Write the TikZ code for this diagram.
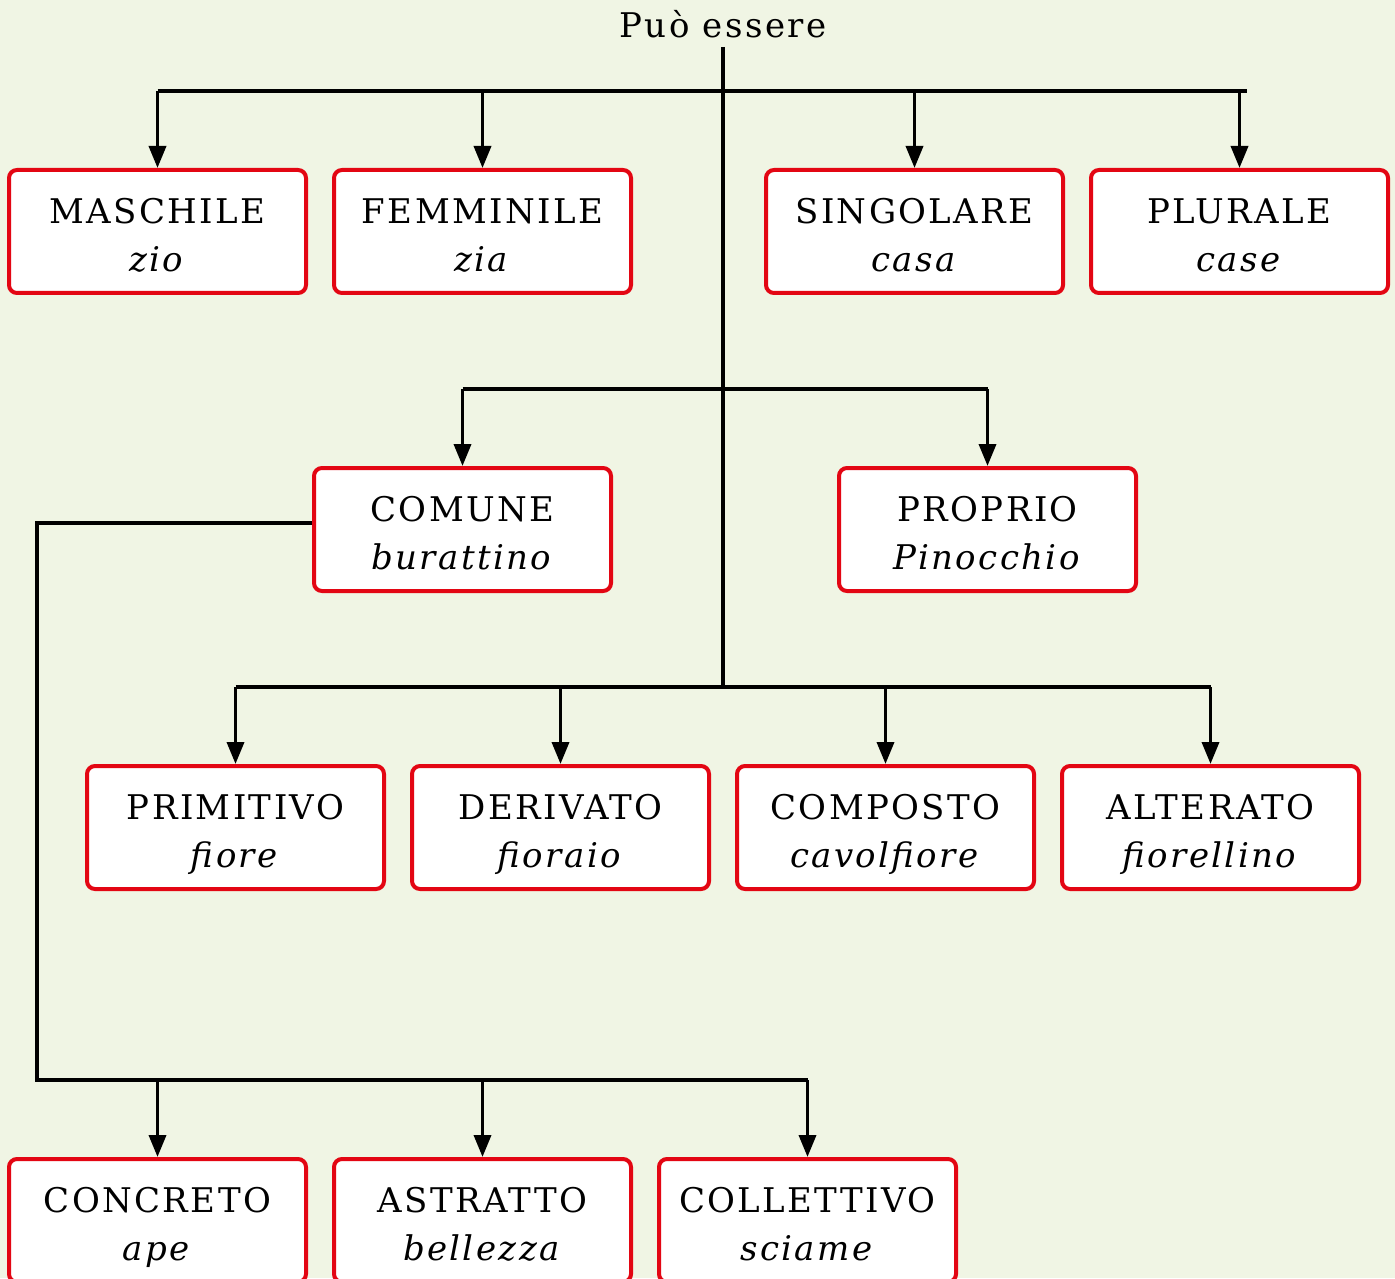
\documentclass[tikz,border=0pt]{standalone}
\usepackage{fontspec}
\setmainfont{DejaVu Serif}[LetterSpace=7]
\usetikzlibrary{arrows.meta}
\definecolor{bg}{RGB}{240,245,228}
\definecolor{boxred}{RGB}{227,6,19}
\tikzset{
  cat/.style={draw=boxred, line width=2pt, rounded corners=4pt, fill=white,
    minimum width=148.5pt, minimum height=61.5pt, align=center,
    font=\fontsize{17}{24}\selectfont, inner sep=0pt},
  conn/.style={line width=1.8pt, draw=black},
  arr/.style={conn, -{Triangle[length=11pt,width=8.5pt]}},
}
\newcommand{\cattext}[2]{\rule{0pt}{20pt}#1\\\textit{#2}\rule[-4.5pt]{0pt}{4.5pt}}
\begin{document}
\begin{tikzpicture}[x=0.5pt,y=-0.5pt]
\fill[bg] (0,0) rectangle (1395,1278);
\useasboundingbox (0,0) rectangle (1395,1278);
\clip (0,0) rectangle (1395,1278);
% title
\node[anchor=base, inner sep=0pt, font=\fontsize{17}{20}\selectfont] (top) at (723,38) {Può essere};
% row 1
\node[cat] (mas) at (157.5,231.5) {\cattext{MASCHILE}{zio}};
\node[cat] (fem) at (482.5,231.5) {\cattext{FEMMINILE}{zia}};
\node[cat] (sin) at (914.5,231.5) {\cattext{SINGOLARE}{casa}};
\node[cat] (plu) at (1239.5,231.5) {\cattext{PLURALE}{case}};
% row 2
\node[cat] (com) at (462.5,529.5) {\cattext{COMUNE}{burattino}};
\node[cat] (pro) at (987.5,529.5) {\cattext{PROPRIO}{Pinocchio}};
% row 3
\node[cat] (pri) at (235.5,827.5) {\cattext{PRIMITIVO}{fiore}};
\node[cat] (der) at (560.5,827.5) {\cattext{DERIVATO}{fioraio}};
\node[cat] (cmp) at (885.5,827.5) {\cattext{COMPOSTO}{cavolfiore}};
\node[cat] (alt) at (1210.5,827.5) {\cattext{ALTERATO}{fiorellino}};
% row 4
\node[cat] (con) at (157.5,1220.5) {\cattext{CONCRETO}{ape}};
\node[cat] (ast) at (482.5,1220.5) {\cattext{ASTRATTO}{bellezza}};
\node[cat] (col) at (807.5,1220.5) {\cattext{COLLETTIVO}{sciame}};
% junctions
\coordinate (j1) at (723,91);
\coordinate (j2) at (723,389);
\coordinate (j3) at (723,687);
\coordinate (c4) at (37,1080);
% trunk
\draw[conn] ([yshift=-4pt]top.south) -- (j3);
% level 1
\draw[conn] (mas.north |- j1) -- ([xshift=3.5pt]plu.north |- j1);
\foreach \n in {mas,fem,sin,plu} \draw[arr] (\n.north |- j1) -- (\n.north);
% level 2
\draw[conn] (com.north |- j2) -- (pro.north |- j2);
\foreach \n in {com,pro} \draw[arr] (\n.north |- j2) -- (\n.north);
% level 3
\draw[conn] (pri.north |- j3) -- (alt.north |- j3);
\foreach \n in {pri,der,cmp,alt} \draw[arr] (\n.north |- j3) -- (\n.north);
% comune branch
\draw[conn] ([yshift=3.25pt]com.west) -- ([yshift=3.25pt]com.west -| c4) -- (c4) -- (col.north |- c4);
\foreach \n in {con,ast,col} \draw[arr] (\n.north |- c4) -- (\n.north);
\end{tikzpicture}
\end{document}
